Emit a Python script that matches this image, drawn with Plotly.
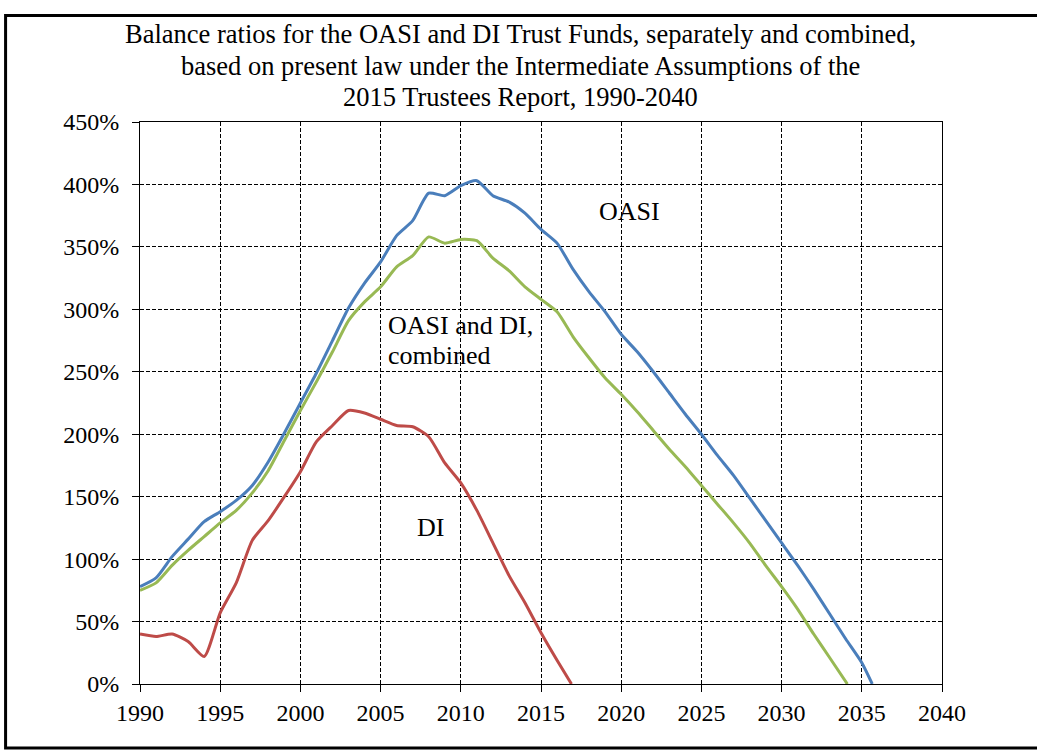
import plotly.graph_objects as go

years_oasi = [1990, 1991, 1992, 1993, 1994, 1995, 1996, 1997, 1998, 1999, 2000,
              2001, 2002, 2003, 2004, 2005, 2006, 2007, 2008, 2009, 2010,
              2011, 2012, 2013, 2014, 2015, 2016, 2017, 2018, 2019, 2020,
              2021, 2022, 2023, 2024, 2025, 2026, 2027, 2028, 2029, 2030,
              2031, 2032, 2033, 2034, 2035, 2035.65]
oasi = [78, 85, 102, 116, 130, 138, 147, 159, 178, 201, 225,
        249, 275, 301, 321, 338, 359, 371, 393, 391, 399,
        403, 391, 386, 377, 364, 353, 332, 314, 298, 280,
        266, 250, 233, 216, 200, 183, 167, 149, 131, 113,
        95, 76, 56, 36, 17, 0]

years_comb = [1990, 1991, 1992, 1993, 1994, 1995, 1996, 1997, 1998, 1999, 2000,
              2001, 2002, 2003, 2004, 2005, 2006, 2007, 2008, 2009, 2010,
              2011, 2012, 2013, 2014, 2015, 2016, 2017, 2018, 2019, 2020,
              2021, 2022, 2023, 2024, 2025, 2026, 2027, 2028, 2029, 2030,
              2031, 2032, 2033, 2034.1]
combined = [75, 81, 95, 107, 118, 129, 139, 153, 171, 195, 219,
            242, 266, 291, 306, 318, 334, 343, 358, 353, 356,
            355, 341, 331, 318, 308, 298, 278, 261, 245, 232,
            218, 203, 188, 174, 159, 144, 129, 113, 95, 78,
            60, 40, 21, 0]

years_di = [1990, 1991, 1992, 1993, 1994, 1995, 1996, 1997, 1998, 1999, 2000,
            2001, 2002, 2003, 2004, 2005, 2006, 2007, 2008, 2009, 2010,
            2011, 2012, 2013, 2014, 2015, 2016, 2016.9]
di = [40, 38, 40, 34, 22, 57, 81, 115, 131, 150, 170,
      194, 207, 219, 217, 212, 207, 206, 198, 177, 161,
      139, 113, 87, 65, 41, 19, 0]

title_lines = ["Balance ratios for the OASI and DI Trust Funds, separately and combined,",
               "based on present law under the Intermediate Assumptions of the",
               "2015 Trustees Report, 1990-2040"]

FONT = "Liberation Serif"
FS = 24       # tick labels
FS_T = 26.5   # title
FS_A = 26     # series labels

fig = go.Figure()
fig.add_trace(go.Scatter(x=years_oasi, y=oasi, mode="lines", name="OASI",
                         line=dict(color="#4A7EBB", width=3, shape="spline", smoothing=0.6)))
fig.add_trace(go.Scatter(x=years_comb, y=combined, mode="lines", name="OASI and DI, combined",
                         line=dict(color="#98B954", width=3, shape="spline", smoothing=0.6)))
fig.add_trace(go.Scatter(x=years_di, y=di, mode="lines", name="DI",
                         line=dict(color="#BE4B48", width=3, shape="spline", smoothing=0.6)))

W, H = 1037, 751
L, R, T, B = 139.5, 942, 121.5, 684
pw, ph = R - L, B - T

def px(xs):
    return (xs - L) / pw

def py(ys):
    return (B - ys) / ph

fig.update_layout(
    width=W, height=H,
    margin=dict(l=L, r=W - R, t=T, b=H - B, autoexpand=False),
    paper_bgcolor="white", plot_bgcolor="white",
    showlegend=False,
    font=dict(family=FONT, size=FS, color="black"),
)

fig.update_xaxes(range=[1990, 2040], tick0=1990, dtick=5,
                 showline=True, linecolor="black", linewidth=1, mirror=True,
                 ticks="outside", ticklen=7, tickcolor="black",
                 showgrid=True, gridcolor="black", gridwidth=1, griddash="4px,2px",
                 zeroline=False, tickfont=dict(family=FONT, size=FS))
fig.update_yaxes(range=[0, 450], tick0=0, dtick=50, ticksuffix="%",
                 showline=True, linecolor="black", linewidth=1, mirror=True,
                 ticks="outside", ticklen=7, tickcolor="black", ticklabelstandoff=8,
                 showgrid=True, gridcolor="black", gridwidth=1, griddash="4px,2px",
                 zeroline=False, tickfont=dict(family=FONT, size=FS))

# title lines (reference centre x ~520, line centres y ~33, 65, 96)
for line, yc in zip(title_lines, [33, 65, 96]):
    fig.add_annotation(text=line, xref="paper", yref="paper",
                       x=px(520), y=py(yc), xanchor="center", yanchor="middle",
                       showarrow=False, font=dict(family=FONT, size=FS_T, color="black"))

fig.add_annotation(text="OASI", x=2018.5, y=378, xref="x", yref="y",
                   xanchor="left", yanchor="middle", showarrow=False,
                   font=dict(family=FONT, size=FS_A))
fig.add_annotation(text="OASI and DI,", x=2005.35, y=287, xref="x", yref="y",
                   xanchor="left", yanchor="middle", showarrow=False,
                   font=dict(family=FONT, size=FS_A))
fig.add_annotation(text="combined", x=2005.35, y=263, xref="x", yref="y",
                   xanchor="left", yanchor="middle", showarrow=False,
                   font=dict(family=FONT, size=FS_A))
fig.add_annotation(text="DI", x=2007.15, y=125, xref="x", yref="y",
                   xanchor="left", yanchor="middle", showarrow=False,
                   font=dict(family=FONT, size=FS_A))

fig.add_shape(type="rect", xref="paper", yref="paper",
              x0=px(5), x1=px(1055), y0=py(748), y1=py(15),
              line=dict(color="black", width=3), fillcolor="rgba(0,0,0,0)", layer="above")

fig.write_html("out.html", config={"displayModeBar": False},
               post_script="document.body.style.margin='0';")
